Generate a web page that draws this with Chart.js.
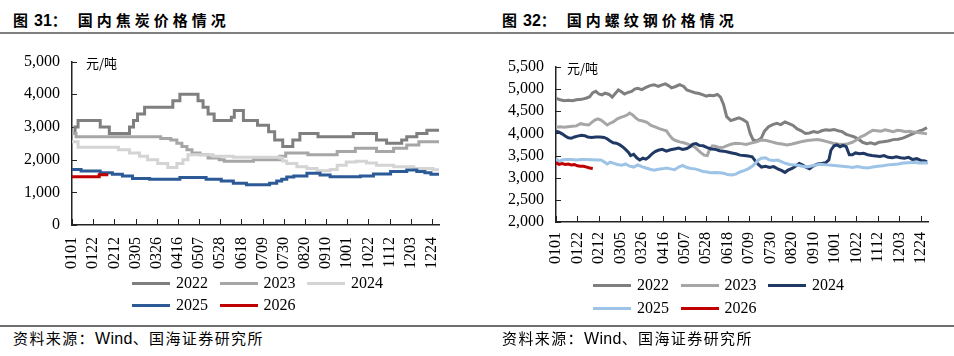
<!DOCTYPE html>
<html><head><meta charset="utf-8">
<script src="https://cdn.jsdelivr.net/npm/chart.js@4/dist/chart.umd.min.js"></script>
<style>
html,body{margin:0;padding:0;background:#fff;}
#wrap{position:relative;width:954px;height:356px;overflow:hidden;background:#fff;}
.title{position:absolute;top:11px;font-family:"Noto Sans CJK SC",sans-serif;font-weight:bold;font-size:15px;line-height:18px;color:#000;white-space:nowrap;}
.title b{font-family:"Liberation Sans",Arial,sans-serif;font-size:16px;margin-left:6px;}
.title .cl{margin-right:11px;}
.title .cn{letter-spacing:4px;}
.hr{position:absolute;left:0;width:954px;background:#7f7f7f;}
.src{position:absolute;top:329px;font-family:"Noto Sans CJK SC",sans-serif;font-size:15px;line-height:18px;color:#000;white-space:nowrap;}
.src .cn{letter-spacing:1.4px;}
.src .en{font-family:"Liberation Sans",Arial,sans-serif;font-size:16px;letter-spacing:0.3px;}
canvas{position:absolute;top:40px;}
.unit{position:absolute;font-family:"Noto Sans CJK SC",sans-serif;font-size:13px;line-height:16px;color:#000;white-space:nowrap;}
.lgrow{position:absolute;height:20px;line-height:20px;font-family:"Liberation Serif","Times New Roman",serif;font-size:16px;color:#000;white-space:nowrap;}
.lgit{display:inline-block;margin-right:11.5px;}
.lgit i{display:inline-block;width:38px;height:3px;vertical-align:middle;margin-right:6px;position:relative;top:-1px;}
</style></head>
<body>
<div id="wrap">
  <div class="title" style="left:13px;">图<b>31</b><span class="cl">：</span><span class="cn">国内焦炭价格情况</span></div>
  <div class="title" style="left:502px;">图<b>32</b><span class="cl">：</span><span class="cn">国内螺纹钢价格情况</span></div>
  <div class="hr" style="top:32px;height:2px;"></div>
  <canvas id="c1" width="477" height="240" style="left:0px;"></canvas>
  <canvas id="c2" width="477" height="240" style="left:477px;"></canvas>
  <div class="unit" style="left:86px;top:55px;">元/吨</div>
  <div class="unit" style="left:567px;top:60px;">元/吨</div>
  <div id="lg1a" class="lgrow" style="left:132px;top:273px;"></div>
  <div id="lg1b" class="lgrow" style="left:132px;top:295px;"></div>
  <div id="lg2a" class="lgrow" style="left:593px;top:275px;"></div>
  <div id="lg2b" class="lgrow" style="left:593px;top:298px;"></div>
  <div class="hr" style="top:325px;height:1.5px;background:#6f6f6f;"></div>
  <div class="src" style="left:13px;"><span class="cn">资料来源：</span><span class="en">Wind</span><span class="cn">、国海证券研究所</span></div>
  <div class="src" style="left:502px;"><span class="cn">资料来源：</span><span class="en">Wind</span><span class="cn">、国海证券研究所</span></div>
</div>
<script>
// ---- tick labels (every 21 days, MMDD) ----
const tickLabels = ['0101','0122','0212','0305','0326','0416','0507','0528','0618','0709','0730','0820','0910','1001','1022','1112','1203','1224'];
const seriesNames = ['2022','2023','2024','2025','2026'];

// ---- coke price (元/吨): [day-of-year index, price] at each price change ----
const coke2022 = [[0,2800],[3,3000],[6,3200],[28,3000],[37,2800],[57,3000],[61,3200],[65,3400],[72,3600],[100,3800],[107,4000],[125,3800],[130,3600],[135,3400],[141,3200],[158,3300],[161,3500],[170,3200],[184,3050],[195,2850],[201,2600],[209,2400],[219,2600],[226,2800],[244,2700],[279,2800],[302,2600],[312,2500],[327,2600],[332,2700],[342,2800],[352,2900],[364,2900]];
const coke2023 = [[0,2800],[4,2700],[88,2650],[98,2600],[104,2500],[109,2400],[114,2300],[119,2200],[127,2150],[135,2050],[146,2000],[151,1950],[180,2000],[206,2100],[212,2200],[234,2150],[263,2250],[281,2350],[302,2250],[319,2350],[332,2450],[344,2550],[364,2550]];
const coke2024 = [[0,2550],[6,2380],[46,2300],[57,2200],[67,2100],[75,2000],[85,1880],[95,1760],[104,1880],[110,2000],[115,2150],[140,2100],[160,2070],[206,2050],[209,1960],[213,1880],[223,1780],[233,1730],[243,1660],[256,1700],[263,1830],[272,1930],[282,1950],[292,1900],[302,1830],[319,1780],[339,1730],[358,1690],[364,1690]];
const coke2025 = [[0,1700],[9,1650],[28,1600],[40,1550],[50,1500],[60,1420],[77,1400],[107,1450],[133,1400],[148,1350],[160,1280],[173,1230],[196,1280],[203,1350],[208,1400],[213,1470],[220,1500],[233,1580],[246,1530],[256,1480],[286,1500],[299,1560],[316,1640],[332,1680],[342,1640],[350,1600],[356,1550],[364,1550]];
const coke2026 = [[0,1480],[27,1540],[36,1540]];

// ---- rebar price (元/吨): [day-of-year index, price] ----
const rebar2022 = [[0,4790],[4,4760],[8,4740],[12,4750],[16,4740],[20,4760],[25,4770],[30,4800],[33,4830],[36,4920],[39,4950],[42,4890],[45,4870],[48,4910],[52,4880],[55,4820],[58,4900],[61,4980],[64,4940],[67,4890],[70,4920],[74,4950],[77,5000],[80,5020],[84,4990],[88,5040],[92,5080],[96,5100],[100,5060],[103,5090],[107,5120],[110,5080],[113,5030],[117,5060],[121,5100],[125,5060],[128,4980],[132,4950],[136,4920],[140,4900],[144,4870],[147,4840],[150,4860],[154,4850],[158,4880],[161,4820],[164,4650],[167,4380],[171,4290],[175,4320],[179,4350],[183,4310],[187,4250],[190,4000],[193,3850],[197,3830],[201,3900],[204,4050],[208,4150],[212,4200],[216,4230],[220,4200],[224,4260],[228,4220],[232,4180],[236,4100],[240,4060],[244,4000],[248,4010],[252,4040],[256,4020],[260,4060],[264,4080],[268,4070],[272,4090],[276,4060],[280,4040],[284,3980],[288,3950],[292,3920],[296,3870],[300,3800],[304,3770],[308,3790],[312,3760],[316,3800],[320,3810],[325,3830],[330,3860],[335,3870],[340,3900],[345,3950],[350,4000],[355,4050],[359,4080],[363,4130]];
const rebar2023 = [[0,4140],[4,4150],[8,4140],[12,4150],[16,4160],[20,4170],[24,4220],[28,4200],[32,4190],[35,4250],[38,4300],[41,4330],[44,4300],[47,4250],[50,4190],[53,4230],[56,4260],[60,4330],[64,4370],[67,4390],[70,4420],[72,4460],[75,4420],[78,4350],[81,4300],[85,4280],[89,4250],[93,4180],[97,4150],[101,4110],[105,4080],[108,4060],[111,3960],[114,3880],[117,3840],[121,3810],[125,3790],[129,3760],[133,3720],[136,3690],[139,3620],[142,3560],[145,3510],[148,3500],[150,3620],[153,3720],[156,3710],[160,3680],[164,3690],[168,3730],[172,3760],[176,3780],[181,3770],[186,3750],[191,3780],[196,3810],[201,3850],[206,3840],[211,3810],[216,3780],[221,3760],[226,3740],[231,3760],[236,3790],[241,3820],[246,3840],[251,3850],[256,3860],[261,3840],[266,3810],[271,3780],[276,3760],[281,3750],[286,3770],[290,3800],[294,3850],[298,3920],[302,3960],[306,4020],[310,4070],[314,4060],[318,4050],[322,4080],[326,4060],[330,4040],[334,4070],[338,4060],[342,4040],[346,4050],[350,4030],[354,4020],[358,4010],[363,3990]];
const rebar2024 = [[0,4050],[3,4030],[6,3990],[9,3940],[12,3900],[15,3890],[18,3920],[21,3940],[25,3960],[28,3950],[31,3920],[35,3910],[39,3920],[43,3920],[47,3910],[50,3880],[53,3830],[56,3790],[59,3780],[62,3750],[65,3700],[68,3640],[71,3570],[73,3500],[76,3530],[79,3450],[82,3400],[85,3440],[88,3420],[91,3470],[94,3540],[97,3590],[100,3620],[104,3640],[108,3600],[112,3630],[116,3650],[120,3670],[124,3640],[128,3660],[131,3700],[134,3760],[137,3770],[140,3730],[144,3720],[148,3680],[152,3650],[156,3640],[160,3610],[164,3600],[168,3580],[172,3560],[176,3540],[180,3510],[184,3500],[188,3490],[192,3470],[195,3380],[198,3300],[201,3240],[205,3260],[209,3230],[213,3250],[217,3200],[221,3160],[224,3120],[227,3170],[231,3210],[235,3270],[238,3320],[241,3290],[245,3230],[248,3200],[252,3270],[256,3310],[260,3320],[264,3340],[267,3400],[269,3620],[272,3720],[275,3740],[278,3700],[281,3730],[284,3700],[287,3520],[290,3520],[293,3560],[297,3540],[301,3550],[305,3520],[309,3500],[313,3490],[317,3480],[321,3500],[325,3460],[329,3450],[333,3470],[337,3450],[341,3440],[345,3460],[349,3410],[353,3430],[357,3390],[361,3380],[363,3360]];
const rebar2025 = [[0,3430],[3,3370],[6,3400],[10,3410],[15,3410],[20,3400],[25,3410],[30,3410],[35,3405],[40,3400],[44,3400],[47,3360],[50,3310],[53,3350],[56,3330],[60,3300],[64,3280],[68,3310],[72,3260],[76,3240],[80,3290],[84,3250],[88,3220],[92,3190],[96,3170],[100,3190],[104,3200],[108,3220],[112,3200],[116,3180],[120,3240],[124,3280],[128,3230],[132,3210],[136,3200],[140,3170],[144,3140],[148,3130],[152,3110],[156,3120],[160,3110],[164,3100],[168,3070],[172,3060],[176,3080],[180,3130],[184,3160],[188,3200],[192,3260],[195,3320],[198,3400],[201,3440],[205,3450],[209,3400],[213,3390],[217,3400],[221,3360],[225,3320],[229,3300],[233,3290],[237,3280],[241,3260],[245,3240],[249,3260],[253,3280],[257,3300],[261,3300],[265,3290],[270,3280],[275,3270],[280,3260],[285,3250],[290,3230],[295,3250],[300,3230],[305,3220],[310,3240],[315,3260],[320,3270],[325,3290],[330,3300],[335,3310],[340,3330],[345,3340],[350,3350],[355,3330],[360,3340],[364,3330]];
const rebar2026 = [[0,3340],[3,3300],[6,3320],[9,3300],[12,3310],[15,3290],[18,3300],[21,3270],[24,3260],[27,3260],[30,3240],[33,3220],[36,3210]];

const cokeColors  = ['#7f7f7f','#a6a6a6','#d4d4d4','#2b5a97','#c00000'];
const rebarColors = ['#7f7f7f','#a6a6a6','#1f3864','#9dc3e6','#c00000'];

const FONT_SERIF = '"Liberation Serif", "Times New Roman", serif';

const innerTicks = {
  id: 'innerTicks',
  beforeDatasetsDraw(chart) {
    const {ctx, chartArea} = chart;
    const xs = chart.scales.x, ys = chart.scales.y;
    ctx.save();
    ctx.strokeStyle = '#222';
    ctx.lineWidth = 1;
    ctx.beginPath();
    xs.ticks.forEach(t => {
      const px = Math.round(xs.getPixelForValue(t.value)) + 0.5;
      ctx.moveTo(px, chartArea.bottom);
      ctx.lineTo(px, chartArea.bottom - 6);
    });
    ys.ticks.forEach(t => {
      const py = Math.round(ys.getPixelForValue(t.value)) + 0.5;
      ctx.moveTo(chartArea.left, py);
      ctx.lineTo(chartArea.left + 5, py);
    });
    ctx.stroke();
    ctx.restore();
  }
};

function toPts(arr) { return arr.map(p => ({x: p[0], y: p[1]})); }

function makeChart(id, seriesList, colors, stepped, cfg) {
  const datasets = seriesList.map((s, i) => ({
    label: seriesNames[i],
    data: toPts(s),
    borderColor: colors[i],
    backgroundColor: colors[i],
    borderWidth: 3,
    pointRadius: 0,
    fill: false,
    tension: 0,
    stepped: stepped,
    order: seriesList.length - i
  }));
  return new Chart(document.getElementById(id), {
    type: 'line',
    data: { datasets },
    options: {
      responsive: false,
      animation: false,
      devicePixelRatio: 1,
      layout: { padding: { left: 0, right: cfg.padRight, top: cfg.padTop, bottom: 0 } },
      plugins: { legend: { display: false }, tooltip: { enabled: false } },
      scales: {
        x: {
          type: 'linear', min: 0, max: 364,
          afterFit: s => { s.height = cfg.xHeight; },
          afterBuildTicks: s => { s.ticks = tickLabels.map((_, i) => ({ value: i * 21 })); },
          grid: { display: true, drawOnChartArea: false, drawTicks: false },
          border: { display: true, color: '#222', width: 1.5 },
          ticks: {
            autoSkip: false, minRotation: 90, maxRotation: 90, padding: cfg.xPad,
            color: '#000', font: { family: FONT_SERIF, size: 16 },
            callback: v => tickLabels[Math.round(v / 21)]
          }
        },
        y: {
          min: cfg.yMin, max: cfg.yMax,
          afterFit: s => { s.width = cfg.yWidth; },
          afterBuildTicks: s => {
            const t = [];
            for (let v = cfg.yMin; v <= cfg.yMax; v += cfg.yStep) t.push({ value: v });
            s.ticks = t;
          },
          grid: { display: true, drawOnChartArea: false, drawTicks: false },
          border: { display: true, color: '#222', width: 1.5 },
          ticks: {
            autoSkip: false,
            padding: 12, color: '#000', font: { family: FONT_SERIF, size: 16 },
            callback: v => Number(v).toLocaleString('en-US')
          }
        }
      }
    },
    plugins: [innerTicks]
  });
}

function buildLegend(chart, rowIds) {
  const ds = chart.data.datasets;
  const rows = [ds.slice(0, 3), ds.slice(3)];
  rows.forEach((r, ri) => {
    const el = document.getElementById(rowIds[ri]);
    r.forEach(d => {
      const it = document.createElement('span');
      it.className = 'lgit';
      const ln = document.createElement('i');
      ln.style.background = d.borderColor;
      it.appendChild(ln);
      it.appendChild(document.createTextNode(d.label));
      el.appendChild(it);
    });
  });
}

const chart1 = makeChart('c1', [coke2022, coke2023, coke2024, coke2025, coke2026], cokeColors, true,
  { yMin: 0, yMax: 5000, yStep: 1000, yWidth: 72, padRight: 38, padTop: 12, xHeight: 55, xPad: 12 });
const chart2 = makeChart('c2', [rebar2022, rebar2023, rebar2024, rebar2025, rebar2026], rebarColors, false,
  { yMin: 2000, yMax: 5500, yStep: 500, yWidth: 79, padRight: 26, padTop: 27, xHeight: 58, xPad: 10 });

buildLegend(chart1, ['lg1a', 'lg1b']);
buildLegend(chart2, ['lg2a', 'lg2b']);
</script>
</body></html>
